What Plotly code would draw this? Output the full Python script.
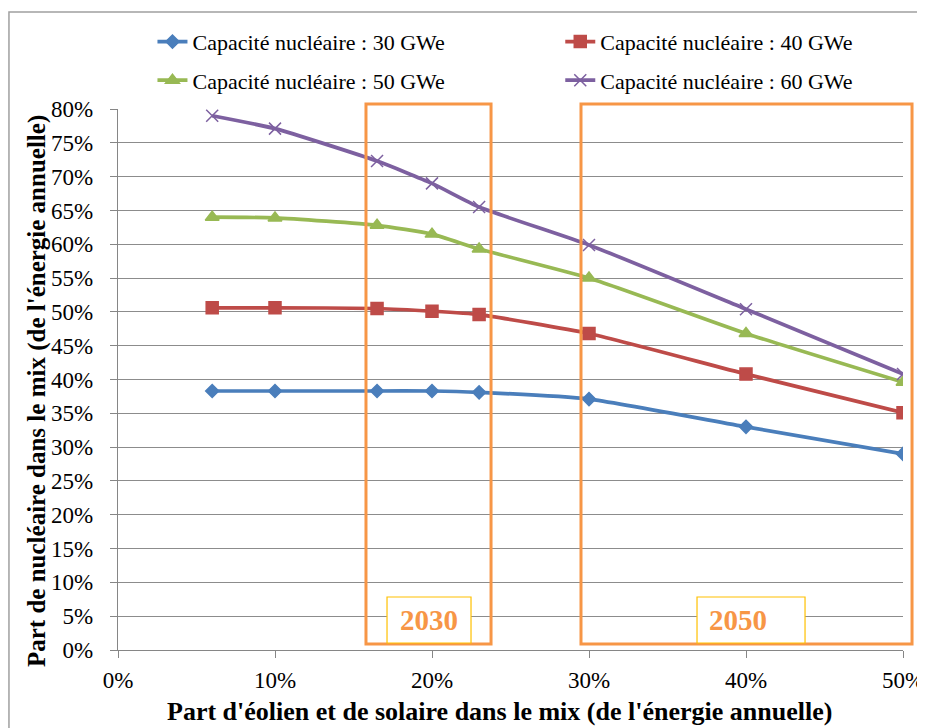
import plotly.graph_objects as go

x_share = [0.06, 0.10, 0.165, 0.20, 0.23, 0.30, 0.40, 0.50]
cap30 = [0.383, 0.383, 0.383, 0.383, 0.381, 0.371, 0.330, 0.290]
cap40 = [0.506, 0.506, 0.505, 0.501, 0.496, 0.468, 0.408, 0.351]
cap50 = [0.640, 0.639, 0.628, 0.615, 0.593, 0.550, 0.468, 0.396]
cap60 = [0.790, 0.771, 0.723, 0.690, 0.655, 0.599, 0.504, 0.408]
names = ["Capacité nucléaire : 30 GWe", "Capacité nucléaire : 40 GWe",
         "Capacité nucléaire : 50 GWe", "Capacité nucléaire : 60 GWe"]
x_ticks = [0, 0.1, 0.2, 0.3, 0.4, 0.5]
y_ticks = [i / 100 for i in range(0, 81, 5)]
box_labels = ["2030", "2050"]
x_title = "Part d'éolien et de solaire dans le mix (de l'énergie annuelle)"
y_title = "Part de nucléaire dans le mix (de l'énergie annuelle)"

colors = ["#4A7EBB", "#BE4B48", "#98B954", "#7D60A0"]
symbols = ["diamond", "square", "triangle-up", "x-thin"]
sizes = [10, 12, 12, 12]
legends = ["legend", "legend2", "legend", "legend2"]
series = [cap30, cap40, cap50, cap60]

FONT = "Liberation Serif"
fig = go.Figure()
for i, (nm, ys, c, s, sz, lg) in enumerate(zip(names, series, colors, symbols, sizes, legends)):
    fig.add_trace(go.Scatter(
        x=x_share, y=ys, name=nm, mode="lines+markers", legend=lg, legendgroup="g%d" % i,
        line=dict(color=c, width=3.7, shape="spline", smoothing=0.5),
        marker=dict(symbol=s, size=sz, color=c, line=dict(color=c, width=1.5)),
    ))

orange = "#F79646"
shapes = []
shapes.append(dict(type="rect", xref="paper", yref="paper", x0=-0.1389, x1=1.1,
                   y0=-0.3, y1=1.1793, line=dict(color="#A0A0A0", width=1.5), layer="below"))
shapes.append(dict(type="rect", xref="paper", yref="paper", x0=0.3159, x1=0.4752,
                   y0=0.0111, y1=1.0092, line=dict(color=orange, width=3)))
shapes.append(dict(type="rect", xref="paper", yref="paper", x0=0.5898, x1=1.0115,
                   y0=0.0111, y1=1.0092, line=dict(color=orange, width=3)))
shapes.append(dict(type="rect", xref="paper", yref="paper", x0=0.3427, x1=0.4497,
                   y0=0.0129, y1=0.098, line=dict(color="#FFC000", width=1.2), fillcolor="white"))
shapes.append(dict(type="rect", xref="paper", yref="paper", x0=0.7376, x1=0.8752,
                   y0=0.0129, y1=0.098, line=dict(color="#FFC000", width=1.2), fillcolor="white"))

annotations = [
    dict(xref="paper", yref="paper", x=0.3962, y=0.0555, xanchor="center", yanchor="middle",
         text="<b>%s</b>" % box_labels[0],
         showarrow=False, font=dict(family=FONT, size=29, color=orange)),
    dict(xref="paper", yref="paper", x=0.7895, y=0.0555, xanchor="center", yanchor="middle",
         text="<b>%s</b>" % box_labels[1],
         showarrow=False, font=dict(family=FONT, size=29, color=orange)),
    dict(xref="paper", yref="paper", x=0.4854, y=-0.1146, xanchor="center", yanchor="middle",
         text="<b>%s</b>" % x_title, showarrow=False,
         font=dict(family=FONT, size=26, color="black")),
    dict(xref="paper", yref="paper", x=-0.1032, y=0.4787, xanchor="center", yanchor="middle",
         text="<b>%s</b>" % y_title, showarrow=False, textangle=-90,
         font=dict(family=FONT, size=25, color="black")),
]

leg_common = dict(orientation="v", yanchor="top", xanchor="left",
                  font=dict(family=FONT, size=22), bgcolor="rgba(0,0,0,0)",
                  tracegroupgap=7, itemwidth=30)

fig.update_layout(
    width=925, height=728,
    margin=dict(l=110, r=30, t=101, b=86, autoexpand=False),
    paper_bgcolor="white", plot_bgcolor="white",
    font=dict(family=FONT, size=22, color="black"),
    shapes=shapes, annotations=annotations,
    showlegend=True,
    legend=dict(x=0.0439, y=1.163, **leg_common),
    legend2=dict(x=0.5634, y=1.163, **leg_common),
    xaxis=dict(range=[0, 0.5], tickvals=x_ticks, tickformat=".0%", automargin=False,
               showgrid=False, zeroline=False, showline=True, linecolor="#868686",
               linewidth=1.3, ticks="outside", ticklen=7, tickcolor="#868686",
               ticklabelstandoff=2,
               tickfont=dict(family=FONT, size=23)),
    yaxis=dict(range=[0, 0.8], tickvals=y_ticks, tickformat=".0%", automargin=False,
               showgrid=True, gridcolor="#8C8C8C", gridwidth=1.3, zeroline=False,
               showline=True, linecolor="#868686", linewidth=1.3,
               ticks="outside", ticklen=7, tickcolor="#868686",
               ticklabelstandoff=12,
               tickfont=dict(family=FONT, size=23)),
)
fig.write_html("out.html")
